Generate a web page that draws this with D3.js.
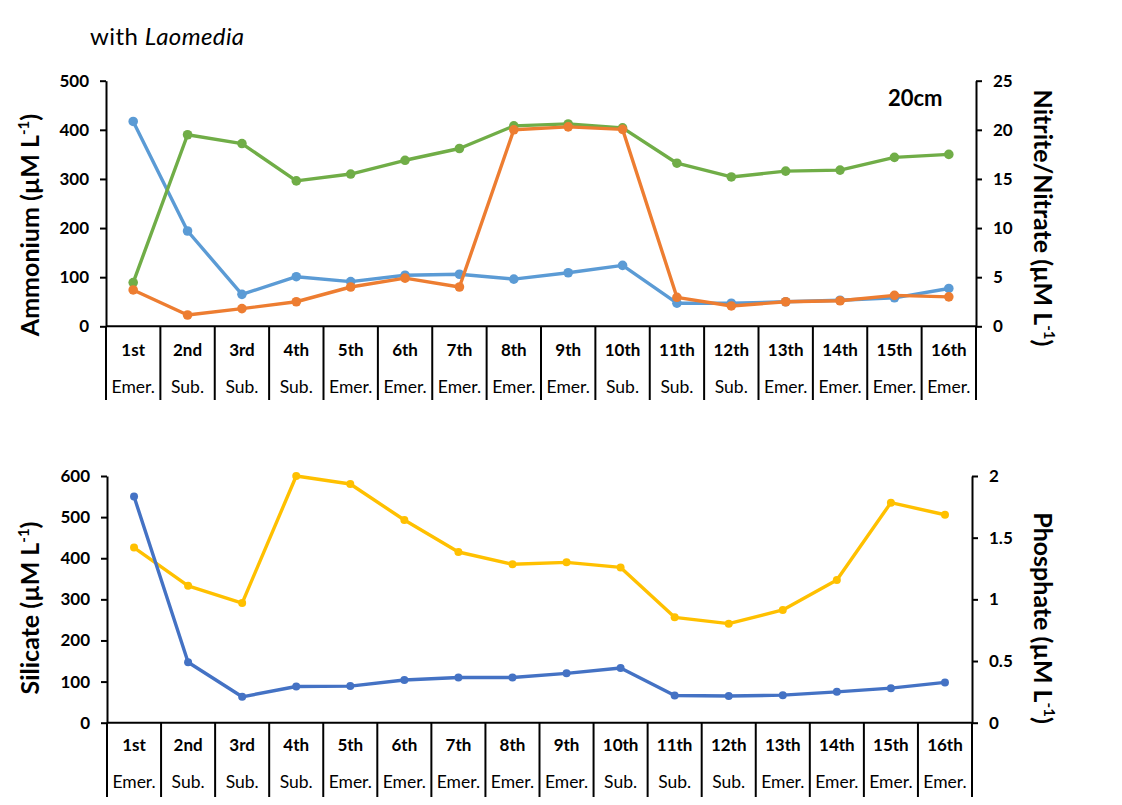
<!DOCTYPE html>
<html>
<head>
<meta charset="utf-8">
<script src="https://cdn.jsdelivr.net/npm/d3@7"></script>
<style>
  body { margin: 0; background: #fff; }
  svg { font-family: Lato, "Open Sans", sans-serif; }
</style>
</head>
<body>
<svg id="chart" width="1122" height="805"></svg>
<script>
// sampling events and tide state
const categories = ["1st", "2nd", "3rd", "4th", "5th", "6th", "7th", "8th", "9th", "10th", "11th", "12th", "13th", "14th", "15th", "16th"];
const phases = ["Emer.", "Sub.", "Sub.", "Sub.", "Emer.", "Emer.", "Emer.", "Emer.", "Emer.", "Sub.", "Sub.", "Sub.", "Emer.", "Emer.", "Emer.", "Emer."];

// top panel (left axis: ammonium, right axis: nitrite / nitrate)
const ammonium = [417, 194, 65, 101, 91, 104, 106, 96, 109, 124, 47, 47, 50, 53, 58, 77];
const nitrite = [3.7, 1.15, 1.8, 2.5, 4.0, 4.9, 4.0, 20.0, 20.3, 20.05, 2.95, 2.07, 2.5, 2.6, 3.15, 3.0];
const nitrate = [4.45, 19.5, 18.6, 14.8, 15.5, 16.9, 18.1, 20.4, 20.6, 20.2, 16.6, 15.2, 15.8, 15.9, 17.2, 17.5];
const ammoniumTicks = [0, 100, 200, 300, 400, 500];
const nitrateTicks = [0, 5, 10, 15, 20, 25];

// bottom panel (left axis: silicate, right axis: phosphate)
const silicate = [550, 147, 63, 88, 89, 104, 110, 110, 120, 133, 66, 65, 67, 75, 84, 98];
const phosphate = [1.42, 1.11, 0.97, 2.0, 1.935, 1.643, 1.384, 1.284, 1.30, 1.259, 0.854, 0.803, 0.914, 1.157, 1.784, 1.686];
const silicateTicks = [0, 100, 200, 300, 400, 500, 600];
const phosphateTicks = [0, 0.5, 1, 1.5, 2];

const svg = d3.select("#chart");

function drawPanel(p) {
  const g = svg.append("g");
  const x = d3.scaleBand().domain(categories).range([p.left, p.right]);
  const yL = d3.scaleLinear().domain(p.leftDomain).range([p.bottom, p.top]);
  const yR = d3.scaleLinear().domain(p.rightDomain).range([p.bottom, p.top]);

  // category grid under the x axis
  const edges = categories.map(c => x(c)).concat([p.right]);
  g.selectAll(".div").data(edges).join("line")
    .attr("x1", d => d).attr("x2", d => d)
    .attr("y1", p.bottom).attr("y2", p.gridBottom)
    .attr("stroke", "#000").attr("stroke-width", 2);
  g.append("line")
    .attr("x1", p.left).attr("x2", p.right)
    .attr("y1", p.bottom).attr("y2", p.bottom)
    .attr("stroke", "#000").attr("stroke-width", 2);

  g.selectAll(".cat").data(categories).join("text")
    .attr("x", d => x(d) + x.bandwidth() / 2)
    .attr("y", p.row1)
    .attr("text-anchor", "middle").attr("dominant-baseline", "middle")
    .attr("font-size", 17).attr("font-weight", "bold")
    .text(d => d);
  g.selectAll(".ph").data(phases).join("text")
    .attr("x", (d, i) => x(categories[i]) + x.bandwidth() / 2)
    .attr("y", p.row2)
    .attr("text-anchor", "middle").attr("dominant-baseline", "middle")
    .attr("font-size", 17.5)
    .text(d => d);

  const axL = g.append("g").attr("transform", `translate(${p.left},0)`)
    .call(d3.axisLeft(yL).tickValues(p.leftTicks).tickSize(6).tickSizeOuter(0).tickPadding(11));
  const axR = g.append("g").attr("transform", `translate(${p.right},0)`)
    .call(d3.axisRight(yR).tickValues(p.rightTicks).tickFormat(d => d).tickSize(6).tickSizeOuter(0).tickPadding(11));
  [axL, axR].forEach(ax => {
    ax.select(".domain").attr("stroke-width", 2);
    ax.selectAll(".tick line").attr("stroke-width", 2);
    ax.selectAll(".tick text").attr("font-size", 17).attr("font-weight", "bold")
      .attr("font-family", "Lato, sans-serif").attr("fill", "#000");
  });

  // series
  p.series.forEach(s => {
    const y = s.axis === "left" ? yL : yR;
    const line = d3.line().x((d, i) => x(categories[i]) + x.bandwidth() / 2).y(d => y(d));
    g.append("path").datum(s.values)
      .attr("d", line).attr("fill", "none")
      .attr("stroke", s.color).attr("stroke-width", 3.4)
      .attr("stroke-linejoin", "round");
    g.selectAll(null).data(s.values).join("circle")
      .attr("cx", (d, i) => x(categories[i]) + x.bandwidth() / 2)
      .attr("cy", d => y(d))
      .attr("r", p.markerR).attr("fill", s.color);
  });

  // axis titles
  const tl = g.append("text")
    .attr("transform", `translate(${p.leftTitleX},${p.leftTitleY}) rotate(-90)`)
    .attr("text-anchor", "middle").attr("font-size", 25).attr("font-weight", "bold");
  tl.append("tspan").text(p.leftTitle + " (\u00b5M L");
  tl.append("tspan").attr("font-size", 15).attr("dy", -10).text("-1");
  tl.append("tspan").attr("dy", 10).text(")");

  const tr = g.append("text")
    .attr("transform", `translate(${p.rightTitleX},${p.rightTitleY}) rotate(90)`)
    .attr("text-anchor", "middle").attr("font-size", 25).attr("font-weight", "bold");
  tr.append("tspan").text(p.rightTitle + " (\u00b5M L");
  tr.append("tspan").attr("font-size", 15).attr("dy", -10).text("-1");
  tr.append("tspan").attr("dy", 10).text(")");
}

drawPanel({
  left: 106, right: 976, top: 80.7, bottom: 326.3, gridBottom: 400,
  row1: 352, row2: 389, markerR: 4.8,
  leftDomain: [0, 500], rightDomain: [0, 25],
  leftTicks: ammoniumTicks, rightTicks: nitrateTicks,
  leftTitle: "Ammonium", rightTitle: "Nitrite/Nitrate",
  leftTitleX: 39, leftTitleY: 225, rightTitleX: 1034, rightTitleY: 218,
  series: [
    {values: ammonium, axis: "left", color: "#5B9BD5"},
    {values: nitrate, axis: "right", color: "#70AD47"},
    {values: nitrite, axis: "right", color: "#ED7D31"}
  ]
});

drawPanel({
  left: 107, right: 972, top: 476, bottom: 722.7, gridBottom: 797,
  row1: 747, row2: 784, markerR: 4,
  leftDomain: [0, 600], rightDomain: [0, 2],
  leftTicks: silicateTicks, rightTicks: phosphateTicks,
  leftTitle: "Silicate", rightTitle: "Phosphate",
  leftTitleX: 39, leftTitleY: 608, rightTitleX: 1034, rightTitleY: 618,
  series: [
    {values: phosphate, axis: "right", color: "#FFC000"},
    {values: silicate, axis: "left", color: "#4472C4"}
  ]
});

// titles
const t = svg.append("text").attr("x", 90).attr("y", 45)
  .attr("font-size", 24).attr("letter-spacing", 0.4);
t.append("tspan").text("with ");
t.append("tspan").attr("font-style", "italic").text("Laomedia");

svg.append("text").attr("x", 888).attr("y", 106)
  .attr("font-size", 22).attr("font-weight", "bold").text("20cm");
</script>
</body>
</html>
